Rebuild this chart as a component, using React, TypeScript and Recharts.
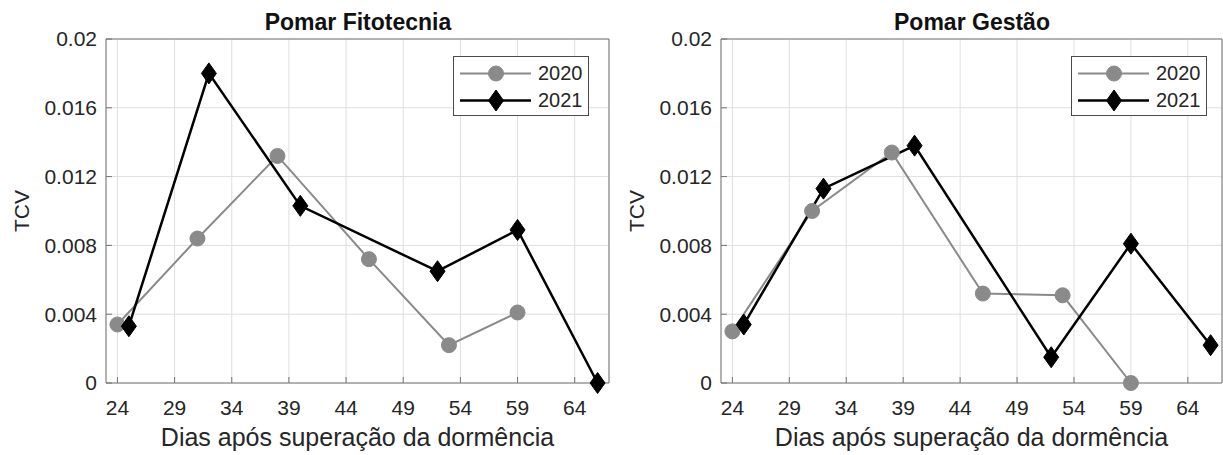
import { LineChart, Line, XAxis, YAxis, CartesianGrid, Legend, Label } from 'recharts'

const xTicks = [24, 29, 34, 39, 44, 49, 54, 59, 64]
const yTicks = [0, 0.004, 0.008, 0.012, 0.016, 0.02]
const seriesNames = ['2020', '2021']

// Pomar Fitotecnia
const fitoDays2020 = [24, 31, 38, 46, 53, 59]
const fitoTcv2020 = [0.0034, 0.0084, 0.0132, 0.0072, 0.0022, 0.0041]
const fitoDays2021 = [25, 32, 40, 52, 59, 66]
const fitoTcv2021 = [0.0033, 0.018, 0.0103, 0.0065, 0.0089, 0]

// Pomar Gestão
const gestaoDays2020 = [24, 31, 38, 46, 53, 59]
const gestaoTcv2020 = [0.003, 0.01, 0.0134, 0.0052, 0.0051, 0]
const gestaoDays2021 = [25, 32, 40, 52, 59, 66]
const gestaoTcv2021 = [0.0034, 0.0113, 0.0138, 0.0015, 0.0081, 0.0022]

const GRAY = '#8a8a8a'
const TEXT = '#262626'
const AXIS = '#747474'

function CircleDot({ cx, cy }: any) {
  if (cx == null || cy == null) return null
  return <circle cx={cx} cy={cy} r={7.5} fill={GRAY} stroke={GRAY} />
}

function DiamondDot({ cx, cy }: any) {
  if (cx == null || cy == null) return null
  const w = 7.5
  const h = 10.5
  return (
    <polygon
      points={`${cx},${cy - h} ${cx + w},${cy} ${cx},${cy + h} ${cx - w},${cy}`}
      fill="#000"
      stroke="#000"
    />
  )
}

function LegendBox() {
  return (
    <div
      style={{
        width: 136,
        height: 60,
        boxSizing: 'border-box',
        border: '1.5px solid #4a4a4a',
        background: '#fff',
        paddingTop: 3,
      }}
    >
      {seriesNames.map((name, i) => (
        <div key={name} style={{ display: 'flex', alignItems: 'center', height: 27 }}>
          <svg width={84} height={27}>
            <line
              x1={6}
              x2={77}
              y1={13.5}
              y2={13.5}
              stroke={i === 0 ? GRAY : '#000'}
              strokeWidth={i === 0 ? 2 : 2.5}
            />
            {i === 0 ? <CircleDot cx={42} cy={13.5} /> : <DiamondDot cx={42} cy={13.5} />}
          </svg>
          <span style={{ fontSize: 20, color: TEXT, lineHeight: '27px' }}>{name}</span>
        </div>
      ))}
    </div>
  )
}

interface PanelProps {
  title: string
  width: number
  yAxisWidth: number
  legendLeft: number
  days2020: number[]
  tcv2020: number[]
  days2021: number[]
  tcv2021: number[]
}

function Panel({ title, width, yAxisWidth, legendLeft, days2020, tcv2020, days2021, tcv2021 }: PanelProps) {
  const d20 = days2020.map((x, i) => ({ x, y: tcv2020[i] }))
  const d21 = days2021.map((x, i) => ({ x, y: tcv2021[i] }))

  return (
    <div style={{ position: 'relative', width, height: 455 }}>
      <div
        style={{
          position: 'absolute',
          top: 10,
          left: yAxisWidth,
          width: width - yAxisWidth,
          textAlign: 'center',
          fontWeight: 'bold',
          fontSize: 23,
          lineHeight: '24px',
          color: '#111',
        }}
      >
        {title}
      </div>
      <LineChart width={width} height={455} margin={{ top: 38, right: 0, bottom: 0, left: 0 }}>
        <CartesianGrid stroke="#dfdfdf" />
        <XAxis
          type="number"
          dataKey="x"
          domain={[23, 67]}
          ticks={xTicks}
          interval={0}
          height={72}
          tickSize={-6}
          tickMargin={23}
          stroke={AXIS}
          tick={{ fill: TEXT, fontSize: 21 }}
        >
          <Label
            value="Dias após superação da dormência"
            position="insideBottom"
            offset={9}
            fill={TEXT}
            fontSize={25}
          />
        </XAxis>
        <XAxis
          xAxisId="top"
          orientation="top"
          type="number"
          domain={[23, 67]}
          ticks={xTicks}
          interval={0}
          height={1}
          tick={false}
          tickSize={-6}
          stroke={AXIS}
        />
        <YAxis
          type="number"
          domain={[0, 0.02]}
          ticks={yTicks}
          interval={0}
          width={yAxisWidth}
          tickSize={-6}
          tickMargin={15}
          stroke={AXIS}
          tick={{ fill: TEXT, fontSize: 21 }}
          tickFormatter={(v: number) => String(v)}
        >
          <Label
            content={({ viewBox }: any) => {
              const cx = viewBox.x + viewBox.width - 85
              const cy = viewBox.y + viewBox.height / 2
              return (
                <text
                  x={cx}
                  y={cy}
                  transform={`rotate(-90 ${cx} ${cy})`}
                  textAnchor="middle"
                  dominantBaseline="central"
                  fontSize={21}
                  fill={TEXT}
                >
                  TCV
                </text>
              )
            }}
          />
        </YAxis>
        <YAxis
          yAxisId="right"
          orientation="right"
          type="number"
          domain={[0, 0.02]}
          ticks={yTicks}
          interval={0}
          width={1}
          tick={false}
          tickSize={-6}
          stroke={AXIS}
        />
        <Legend
          layout="vertical"
          align="center"
          verticalAlign="middle"
          content={() => <LegendBox />}
          wrapperStyle={{ left: legendLeft, top: 56, width: 136, height: 60 }}
        />
        <Line
          data={d20}
          dataKey="y"
          name={seriesNames[0]}
          stroke={GRAY}
          strokeWidth={2}
          dot={(p: any) => <CircleDot key={`c${p.index}`} cx={p.cx} cy={p.cy} />}
          isAnimationActive={false}
        />
        <Line
          data={d21}
          dataKey="y"
          name={seriesNames[1]}
          stroke="#000"
          strokeWidth={2.5}
          dot={(p: any) => <DiamondDot key={`d${p.index}`} cx={p.cx} cy={p.cy} />}
          isAnimationActive={false}
        />
      </LineChart>
    </div>
  )
}

export default function App() {
  return (
    <div
      style={{
        position: 'absolute',
        left: 0,
        top: 0,
        width: 1223,
        height: 455,
        overflow: 'hidden',
        background: '#fff',
        display: 'flex',
        fontFamily: '"Liberation Sans", Arial, sans-serif',
      }}
    >
      <Panel
        title="Pomar Fitotecnia"
        width={610}
        yAxisWidth={106}
        legendLeft={453}
        days2020={fitoDays2020}
        tcv2020={fitoTcv2020}
        days2021={fitoDays2021}
        tcv2021={fitoTcv2021}
      />
      <Panel
        title="Pomar Gestão"
        width={613}
        yAxisWidth={111}
        legendLeft={461}
        days2020={gestaoDays2020}
        tcv2020={gestaoTcv2020}
        days2021={gestaoDays2021}
        tcv2021={gestaoTcv2021}
      />
    </div>
  )
}
